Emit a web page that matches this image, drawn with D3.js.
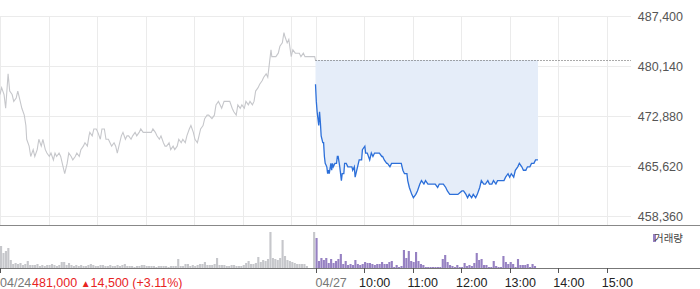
<!DOCTYPE html>
<html>
<head>
<meta charset="utf-8">
<script src="https://cdn.jsdelivr.net/npm/d3@7"></script>
<style>
    body { margin: 0; background: #fff; }
    svg text { font-family: "Liberation Sans", Arial, sans-serif; }
</style>
</head>
<body>
<div id="chart"></div>
<script>
// [minutes after 09:00, price]  (04/24 session)
const prevDay = [
    [0,476000],[2,477000],[5,476000],[7,474000],[10,479000],[12,476500],[15,476000],[17,475000],[20,475500],[22,476500],
    [25,475000],[27,474000],[30,473000],[32,471500],[33,469500],[36,468500],[38,467000],[41,468000],[43,467000],[46,468000],
    [48,469500],[51,468500],[53,469500],[56,468000],[58,467500],[61,467000],[63,467500],[66,466500],[68,467500],[70,467000],
    [73,467500],[75,467000],[78,465500],[80,464500],[83,466000],[85,467500],[88,467000],[90,466500],[93,467000],[95,467500],
    [98,467000],[100,468000],[103,468500],[105,469000],[108,468500],[110,470000],[111,470500],[114,470000],[116,471000],[119,471000],
    [121,470500],[124,469500],[126,471000],[129,471000],[131,469500],[134,469500],[136,469000],[138,468500],[141,469000],[143,468500],
    [145,467500],[147,468500],[150,470000],[152,470500],[155,469500],[157,470000],[159,470000],[162,469500],[164,470000],[167,470500],
    [169,470000],[172,470500],[174,471000],[177,470500],[179,470500],[182,470500],[184,470500],[187,470500],[189,471000],[192,470500],
    [194,470000],[197,469500],[199,470000],[202,469000],[204,468500],[206,468500],[209,469000],[211,468000],[214,468500],[216,468000],
    [219,468500],[221,469500],[224,469000],[226,469500],[229,469000],[231,470000],[234,471000],[236,471500],[239,470500],[241,469500],
    [244,469000],[246,470000],[248,471000],[251,471500],[253,472500],[256,473000],[258,473000],[262,472500],[265,473000],[267,474500],
    [270,475000],[272,474500],[274,474000],[277,475000],[279,475000],[282,475000],[284,475000],[287,474000],[289,473500],[292,473000],
    [294,474500],[297,474000],[299,474500],[302,474000],[304,475000],[307,474500],[309,475000],[312,474500],[314,475000],[316,476500],
    [319,477000],[321,477500],[324,478000],[326,478500],[329,479000],[331,478500],[334,481500],[335,482500],[336,481500],[339,481500],
    [341,481500],[344,482000],[346,483000],[349,483500],[351,485000],[352,484500],[355,483500],[357,484000],[360,481500],[362,482500],
    [365,482000],[367,482000],[370,482000],[372,481500],[375,482000],[377,481500],[380,481500],[382,481500],[384,481500],[387,481500],
    [389,481500],[390,481000]
];

// [minutes after 09:00, price]  (04/27 session, up to 13:35)
const today = [
    [0,477500],[1,475000],[2,473500],[4,471500],[5,473500],[6,472000],[7,470000],[9,469000],[10,469000],[11,467000],
    [12,466000],[14,465500],[15,464500],[16,465000],[17,464500],[19,466000],[20,465000],[21,466000],[22,465500],[24,466000],
    [25,466000],[26,466000],[27,467000],[28,467000],[30,465500],[32,463500],[33,464500],[35,464500],[36,466000],[38,466000],
    [40,465500],[42,465500],[43,465500],[45,465500],[46,465000],[48,465500],[49,464000],[52,465500],[54,466500],[57,466500],
    [58,468000],[61,468500],[62,467500],[64,467500],[67,466500],[69,467500],[71,467000],[73,467500],[75,467500],[77,467500],
    [79,467500],[82,467000],[83,467000],[85,466500],[88,466000],[89,466000],[92,465500],[94,466000],[95,466000],[98,466000],
    [100,466000],[101,466000],[104,466000],[106,466000],[108,465000],[110,464500],[113,464500],[114,463500],[116,462500],[119,461500],
    [121,461000],[124,461500],[126,462000],[129,463000],[131,463500],[134,463000],[136,463500],[139,463000],[141,463000],[144,463000],
    [146,463000],[148,463000],[151,462500],[153,463000],[156,463000],[158,463000],[161,462500],[163,462000],[166,461500],[171,461500],
    [176,461500],[181,462000],[183,462000],[186,461500],[188,461000],[190,461500],[193,461000],[195,461500],[198,461000],[200,461500],
    [203,462500],[205,463500],[208,463000],[210,463000],[213,463500],[215,463000],[218,463000],[220,463500],[223,463000],[225,463500],
    [228,463500],[230,463500],[233,463500],[235,464000],[238,464500],[240,464000],[242,464500],[245,464000],[247,465000],[250,465500],
    [252,466000],[255,465500],[257,465000],[260,465000],[262,465500],[265,465500],[267,466000],[270,466000],[272,466500],[275,466500]
];

// volume per 3-minute slot, thousand shares
const prevVolume = [
    22,15,17,20,8,4,5,4,5,3, 4,7,3,3,3,4,2,3,2,3, 3,4,3,2,3,6,6,3,5,3,
    2,3,2,3,2,2,3,4,3,2, 2,3,3,2,2,3,2,2,3,2, 3,4,
    2,2,2,1,2,2,3,3,2,2, 2,2,1,2,2,2,2,1,2,2, 2,
    9,2,2,4,4,2,3,2,3,4, 4,6,3,3,3,4,10,3,3,3, 2,2,3,3,2,2,2,3,5,7,
    4,4,5,11,6,8,7,9,36,10, 9,8,10,28,12,8,7,6,5,4, 4,4,4,2,0,0,36
];
const todayVolume = [
    30,7,10,8,10,5,9,5,7,9, 14,4,7,3,4,3,8,4,3,4, 6,5,5,4,3,4,4,6,4,4,
    6,7,1,3,1,2,18,10,17,7, 6,16,7,4,3,1,1,1,1,1, 1,1,9,13,6,3,2,1,3,1,
    1,5,2,3,2,5,15,8,9,3, 3,1,1,7,2,1,1,12,6,4, 6,4,1,9,3,3,3,4,1,4, 2
];

const priceTicks = [487400, 480140, 472880, 465620, 458360];
const gridMinutes = [0, 60, 120, 180, 240, 300, 360, 390, 450, 510, 570, 630, 690, 750];
const timeLabels = [
    {m: 0, text: "04/24", date: true},
    {m: 390, text: "04/27", date: true},
    {m: 450, text: "10:00"}, {m: 510, text: "11:00"}, {m: 570, text: "12:00"},
    {m: 630, text: "13:00"}, {m: 690, text: "14:00"}, {m: 750, text: "15:00"}
];
const prevClose = 481000;
const change = 14500;
const changePct = 3.11;

const W = 700, H = 289;
const x = d3.scaleLinear().domain([0, 780]).range([0, 631]);
const y = d3.scaleLinear().domain([458360, 487400]).range([216, 16]);
const yVol = d3.scaleLinear().domain([0, 36]).range([268, 232]);
const px = v => Math.round(v) + 0.5;

var svg = d3.select("#chart").append("svg").attr("width", W).attr("height", H);

// grid
svg.append("g").selectAll("line").data(priceTicks).join("line")
    .attr("x1", 0).attr("x2", x(780))
    .attr("y1", d => px(y(d))).attr("y2", d => px(y(d)))
    .attr("stroke", "#ebebeb");
svg.append("g").selectAll("line").data(gridMinutes).join("line")
    .attr("x1", d => px(x(d))).attr("x2", d => px(x(d)))
    .attr("y1", 16).attr("y2", 225)
    .attr("stroke", "#ebebeb");

// today fill against previous close
const area = d3.area()
    .x(d => x(390 + d[0]))
    .y0(y(prevClose))
    .y1(d => y(d[1]));
svg.append("path").datum(today).attr("d", area).attr("fill", "#e5edf9");

// previous close dotted line
svg.append("line")
    .attr("x1", x(390)).attr("x2", x(780))
    .attr("y1", px(y(prevClose))).attr("y2", px(y(prevClose)))
    .attr("stroke", "#555").attr("stroke-dasharray", "1,2");

const line = offset => d3.line().x(d => x(offset + d[0])).y(d => y(d[1]));
svg.append("path").datum(prevDay).attr("d", line(0))
    .attr("fill", "none").attr("stroke", "#c6c7cb").attr("stroke-width", 1.1);
svg.append("path").datum(today).attr("d", line(390))
    .attr("fill", "none").attr("stroke", "#2c6fd9").attr("stroke-width", 1.3);

// price labels
svg.append("g").selectAll("text").data(priceTicks).join("text")
    .attr("x", 683).attr("y", d => y(d) + 4.5)
    .attr("text-anchor", "end")
    .attr("font-size", 12.5)
    .attr("fill", "#555")
    .text(d => d3.format(",")(d));

// volume panel
svg.append("line").attr("x1", 0).attr("x2", W).attr("y1", 225.5).attr("y2", 225.5)
    .attr("stroke", "#888");

const barW = x(3) - x(0) - 0.3;
svg.append("g").selectAll("rect").data(prevVolume).join("rect")
    .attr("x", (d, i) => x(i * 3))
    .attr("width", barW)
    .attr("y", d => yVol(d))
    .attr("height", d => 268 - yVol(d))
    .attr("fill", "#c6c7cb");
svg.append("g").selectAll("rect").data(todayVolume).join("rect")
    .attr("x", (d, i) => x(390 + i * 3))
    .attr("width", barW)
    .attr("y", d => yVol(d))
    .attr("height", d => 268 - yVol(d))
    .attr("fill", "#9681c2");

svg.append("rect").attr("x", 653).attr("y", 234).attr("width", 3).attr("height", 8).attr("fill", "#9681c2");
svg.append("text").attr("x", 683).attr("y", 242)
    .attr("text-anchor", "end")
    .attr("font-size", 10.5)
    .attr("fill", "#444")
    .style("font-family", "'Noto Sans CJK KR', sans-serif")
    .text("거래량");

// time axis
svg.append("line").attr("x1", 0).attr("x2", W).attr("y1", 268.5).attr("y2", 268.5)
    .attr("stroke", "#777");
svg.append("g").selectAll("line").data(timeLabels).join("line")
    .attr("x1", d => px(x(d.m))).attr("x2", d => px(x(d.m)))
    .attr("y1", 268).attr("y2", 273)
    .attr("stroke", "#555");
svg.append("g").selectAll("text").data(timeLabels).join("text")
    .attr("x", d => d.date ? Math.max(0, x(d.m)) : x(d.m) - 5)
    .attr("y", 287)
    .attr("font-size", 12.5)
    .attr("fill", d => d.date ? "#777" : "#222")
    .text(d => d.text);

// price info next to the first date
var info = svg.append("text").attr("x", 32).attr("y", 287)
    .attr("font-size", 12.5).attr("fill", "#e8231f");
info.append("tspan").text(d3.format(",")(prevClose) + " ");
info.append("tspan").attr("font-size", 10).attr("dy", -0.5).text("▲");
info.append("tspan").attr("dy", 0.5).text(d3.format(",")(change) + " (+" + changePct.toFixed(2) + "%)");
</script>
</body>
</html>
